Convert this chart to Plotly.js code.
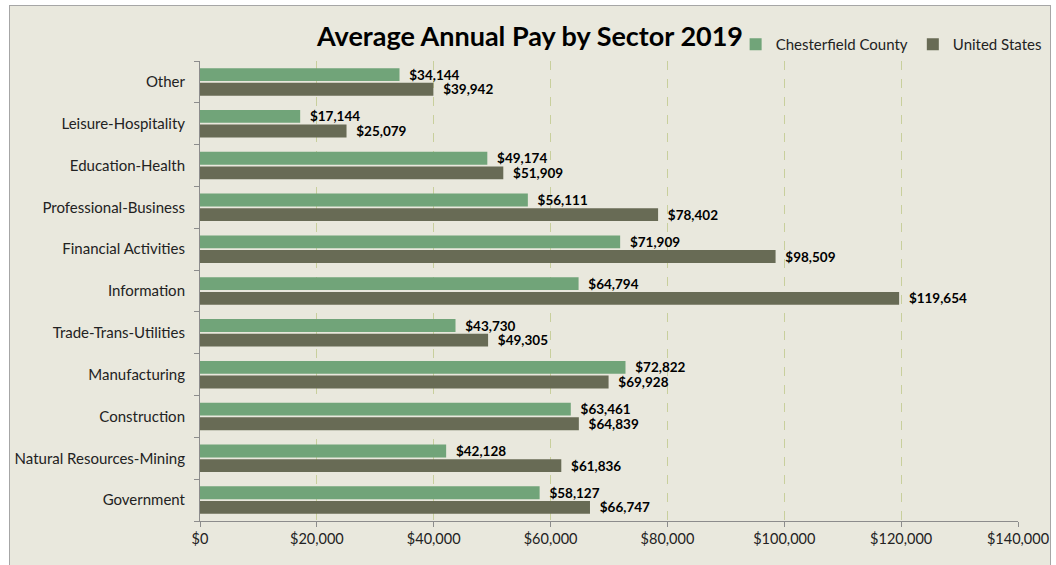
<!DOCTYPE html>
<html>
<head>
<meta charset="utf-8">
<script src="https://cdn.plot.ly/plotly-3.0.1.min.js"></script>
<style>
  html, body { margin: 0; padding: 0; background: #ffffff; }
  #chart {
    position: absolute; left: 9px; top: 5px;
    width: 1040px; height: 560px;
    border: 1px solid #a6a6a6;
  }
</style>
</head>
<body>
<div id="chart"></div>
<script>
// sectors, bottom to top as drawn
var sectors = ['Government', 'Natural Resources-Mining', 'Construction', 'Manufacturing',
  'Trade-Trans-Utilities', 'Information', 'Financial Activities', 'Professional-Business',
  'Education-Health', 'Leisure-Hospitality', 'Other'];
var chesterfield = [58127, 42128, 63461, 72822, 43730, 64794, 71909, 56111, 49174, 17144, 34144];
var unitedStates = [66747, 61836, 64839, 69928, 49305, 119654, 98509, 78402, 51909, 25079, 39942];
var xTicks = [0, 20000, 40000, 60000, 80000, 100000, 120000, 140000];
var xTickText = ['$0', '$20,000', '$40,000', '$60,000', '$80,000', '$100,000', '$120,000', '$140,000'];

var fontName = 'Lato, "Open Sans", sans-serif';

// small lead space so the labels sit a bit off the bar ends
function money(v) { return '\u2002$' + v.toLocaleString('en-US'); }

var us = {
  type: 'bar', orientation: 'h',
  name: 'United States',
  y: sectors, x: unitedStates,
  marker: { color: '#686b55' },
  text: unitedStates.map(money),
  textposition: 'outside',
  constraintext: 'none',
  textfont: { family: fontName, size: 13.5, color: '#000000', weight: 'bold' },
  cliponaxis: false,
  hoverinfo: 'x'
};

var county = {
  type: 'bar', orientation: 'h',
  name: 'Chesterfield County',
  y: sectors, x: chesterfield,
  marker: { color: '#71a479' },
  text: chesterfield.map(money),
  textposition: 'outside',
  constraintext: 'none',
  textfont: { family: fontName, size: 13.5, color: '#000000', weight: 'bold' },
  cliponaxis: false,
  hoverinfo: 'x'
};

var layout = {
  width: 1040, height: 560,
  paper_bgcolor: '#e9e8dd',
  plot_bgcolor: '#e9e8dd',
  font: { family: fontName, size: 15, color: '#222222' },
  margin: { l: 190, r: 32, t: 55, b: 45, autoexpand: false },
  barmode: 'group',
  bargap: 0.3,
  bargroupgap: 0.12,
  showlegend: true,
  title: {
    text: 'Average Annual Pay by Sector 2019',
    font: { family: fontName, size: 27, color: '#000000', weight: 'bold' },
    x: 0.5, xanchor: 'center', y: 0.945, yanchor: 'middle'
  },
  legend: {
    orientation: 'h', traceorder: 'reversed',
    x: 1.035, xanchor: 'right', y: 1.0, yanchor: 'bottom',
    itemwidth: 30,
    font: { family: fontName, size: 15, color: '#222222' },
    bgcolor: 'rgba(0,0,0,0)'
  },
  xaxis: {
    range: [0, 140000],
    tickvals: xTicks, ticktext: xTickText,
    tickfont: { size: 14.5 },
    showgrid: true, gridcolor: '#c8cf9c', griddash: 'dash', gridwidth: 1,
    zeroline: false,
    showline: true, linecolor: '#8c8c8c', linewidth: 1,
    ticks: 'outside', ticklen: 5, tickcolor: '#8c8c8c',
    fixedrange: true
  },
  yaxis: {
    type: 'category',
    showline: true, linecolor: '#8c8c8c', linewidth: 1,
    ticks: 'outside', tickson: 'boundaries', ticklen: 5, tickcolor: '#8c8c8c',
    ticklabelstandoff: 11,
    showgrid: false,
    fixedrange: true
  }
};

Plotly.newPlot('chart', [us, county], layout, { displayModeBar: false, staticPlot: true });
</script>
</body>
</html>
